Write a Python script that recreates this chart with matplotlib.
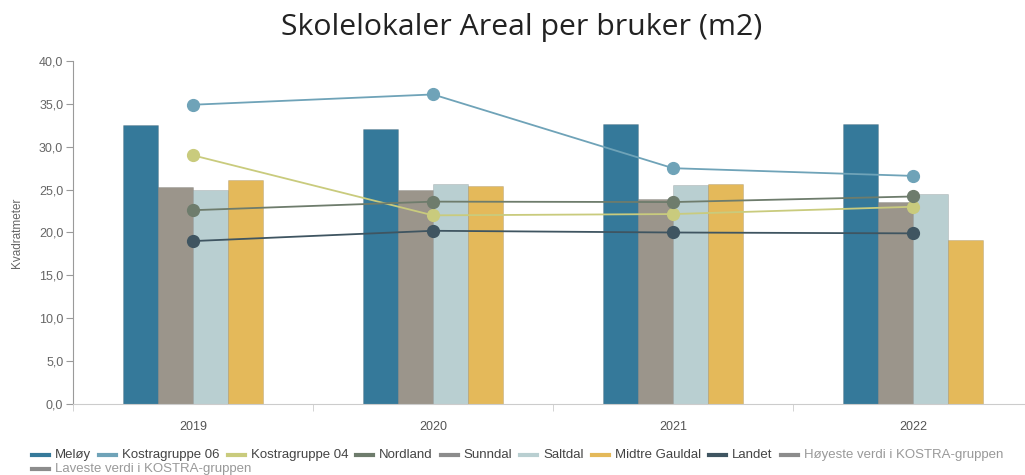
import numpy as np
import matplotlib
matplotlib.use("Agg")
import matplotlib.pyplot as plt
from matplotlib.lines import Line2D

# Data
years = ["2019", "2020", "2021", "2022"]

meloy = [32.5, 32.1, 32.65, 32.65]
sunndal = [25.3, 24.9, 23.9, 23.55]
saltdal = [25.0, 25.6, 25.5, 24.5]
midtre_gauldal = [26.1, 25.4, 25.7, 19.1]

kostra06 = [34.9, 36.1, 27.5, 26.6]
kostra04 = [29.0, 22.0, 22.15, 23.0]
nordland = [22.6, 23.6, 23.55, 24.2]
landet = [19.0, 20.2, 20.0, 19.9]

legend_labels = ["Meløy", "Kostragruppe 06", "Kostragruppe 04", "Nordland", "Sunndal",
                 "Saltdal", "Midtre Gauldal", "Landet", "Høyeste verdi i KOSTRA-gruppen",
                 "Laveste verdi i KOSTRA-gruppen"]

# Colours
c_meloy = "#35799a"
c_sunndal = "#9b958b"
c_saltdal = "#b9cfd1"
c_midtre = "#e4b95a"
c_k06 = "#6fa3b8"
c_k04 = "#c9cb7d"
c_nordland = "#6e7c6c"
c_landet = "#3f5561"
c_grey = "#8c8c8c"
legend_colors = [c_meloy, c_k06, c_k04, c_nordland, "#8c8c8c", c_saltdal, c_midtre,
                 c_landet, c_grey, c_grey]

W, H = 1025, 475
fig = plt.figure(figsize=(W / 100, H / 100), dpi=100)
ax = fig.add_axes([73 / W, 1 - 404 / H, 960 / W, (404 - 61) / H])

x = np.arange(len(years))
bw = 0.145
bar_series = [(meloy, c_meloy), (sunndal, c_sunndal), (saltdal, c_saltdal), (midtre_gauldal, c_midtre)]
for i, (vals, col) in enumerate(bar_series):
    ax.bar(x + (i - 1.5) * bw, vals, width=bw, color=col, edgecolor="#00000022",
           linewidth=0.6, zorder=2)

line_series = [(kostra06, c_k06), (kostra04, c_k04), (nordland, c_nordland), (landet, c_landet)]
for vals, col in line_series:
    ax.plot(x, vals, color=col, lw=1.3, marker="o", ms=8.5, zorder=3)

ax.set_xlim(-0.5, 3.5)
ax.set_ylim(0, 40)
ax.set_yticks(np.arange(0, 41, 5))
ax.set_yticklabels([f"{v:.1f}".replace(".", ",") for v in np.arange(0, 41, 5)])
ax.set_xticks(x)
ax.set_xticklabels(years)
ax.set_xticks(np.arange(-0.5, 3.6, 1), minor=True)

for s in ["top", "right"]:
    ax.spines[s].set_visible(False)
ax.spines["left"].set_color("#9a9a9a")
ax.spines["bottom"].set_color("#cccccc")
ax.tick_params(axis="y", length=5, color="#9a9a9a", labelsize=9, labelcolor="#666666", pad=2)
ax.tick_params(axis="x", which="major", length=0, labelsize=9, labelcolor="#555555", pad=12)
ax.tick_params(axis="x", which="minor", length=5, color="#cccccc")
for t in ax.get_xticklabels() + ax.get_yticklabels():
    t.set_family("Liberation Sans")

ax.set_ylabel("Kvadratmeter", fontsize=8.5, color="#666666", family="Liberation Sans")
ax.yaxis.set_label_coords(-50 / 960, 0.5)

fig.text(522 / W, 1 - 28 / H, "Skolelokaler Areal per bruker (m2)", ha="center", va="center",
         fontsize=21.8, color="#222222", family="Open Sans")

# Legend drawn by hand so it wraps like the original
fig.canvas.draw()
renderer = fig.canvas.get_renderer()
px, py = 32, 455
for i, (lab, col) in enumerate(zip(legend_labels, legend_colors)):
    if i == 9:
        px, py = 32, 469
    fig.add_artist(Line2D([px / W, (px + 17) / W], [1 - py / H, 1 - py / H],
                          color=col, lw=3, transform=fig.transFigure))
    tc = "#999999" if i >= 8 else "#444444"
    t = fig.text((px + 23) / W, 1 - py / H, lab, ha="left", va="center",
                 fontsize=9.5, color=tc, family="Liberation Sans")
    bb = t.get_window_extent(renderer)
    px = px + 23 + bb.width + 8

fig.savefig("out.png", dpi=100)
